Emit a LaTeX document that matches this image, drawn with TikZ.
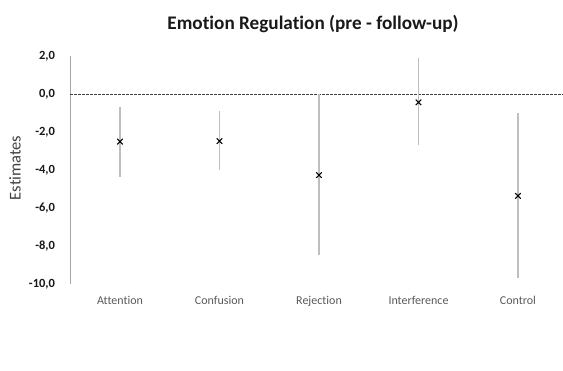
\documentclass[tikz,border=0pt]{standalone}
\usepackage{fontspec}
\setmainfont{Carlito}[Ligatures=NoCommon]
\usetikzlibrary{shapes.misc}

\definecolor{axisgray}{HTML}{A6A6A6}
\definecolor{bargray}{HTML}{BFBFBF}
\definecolor{textgray}{HTML}{404040}
\definecolor{catgray}{HTML}{595959}

\begin{document}
\begin{tikzpicture}
    [
        x=1pt, y=1pt,
        errbar/.style = {draw=bargray, line width=1.6pt},
        estmark/.style = {draw=black, shape=cross out, minimum size=4.4pt, inner sep=0pt, line width=1.1pt},
        ticklabel/.style = {anchor=east, inner sep=0pt, xshift=-15pt, font=\fontsize{12.5}{14}\selectfont\bfseries, text=black!90},
        catlabel/.style = {anchor=base, inner sep=0pt, yshift=-19.7pt, font=\fontsize{12}{14}\selectfont, text=catgray},
    ]

    \useasboundingbox (0,0) rectangle (563,-370);

    \node[font=\fontsize{19.2}{22}\selectfont\bfseries, text=black!90] (title) at (313,-24) {Emotion Regulation (pre - follow-up)};
    \node[rotate=90, font=\fontsize{16.5}{19}\selectfont, text=textgray] (ylabel) at (15,-168) {Estimates};

    \begin{scope}[x=99.5pt, y=19pt, xshift=20.5pt, yshift=-94.3pt]

        % axis and zero line
        \coordinate (axtop) at (0.5,2);
        \coordinate (axbot) at (0.5,-10);
        \coordinate (zeroL) at (0.5,0);
        \coordinate (zeroR) at (5.45,0);
        \draw[draw=axisgray, line width=1pt] (axtop) -- (axbot);
        \draw[draw=textgray, line width=0.9pt, dash pattern=on 2.5pt off 1.5pt] (zeroL) -- (zeroR);

        % tick labels
        \node[ticklabel] (t2)   at (0.5,2)   {2,0};
        \node[ticklabel] (t0)   at (0.5,0)   {0,0};
        \node[ticklabel] (tm2)  at (0.5,-2)  {-2,0};
        \node[ticklabel] (tm4)  at (0.5,-4)  {-4,0};
        \node[ticklabel] (tm6)  at (0.5,-6)  {-6,0};
        \node[ticklabel] (tm8)  at (0.5,-8)  {-8,0};
        \node[ticklabel] (tm10) at (0.5,-10) {-10,0};

        % error bars
        \coordinate (attTop) at (1,-0.65);  \coordinate (attBot) at (1,-4.34);
        \coordinate (conTop) at (2,-0.88);  \coordinate (conBot) at (2,-4.0);
        \coordinate (rejTop) at (3,0);      \coordinate (rejBot) at (3,-8.46);
        \coordinate (intTop) at (4,1.9);    \coordinate (intBot) at (4,-2.67);
        \coordinate (ctrTop) at (5,-1.0);   \coordinate (ctrBot) at (5,-9.68);

        \draw[errbar] (attTop) -- (attBot);
        \draw[errbar] (conTop) -- (conBot);
        \draw[errbar] (rejTop) -- (rejBot);
        \draw[errbar] (intTop) -- (intBot);
        \draw[errbar] (ctrTop) -- (ctrBot);

        % estimates
        \node[estmark] (attM) at (1,-2.49) {};
        \node[estmark] (conM) at (2,-2.46) {};
        \node[estmark] (rejM) at (3,-4.25) {};
        \node[estmark] (intM) at (4,-0.42) {};
        \node[estmark] (ctrM) at (5,-5.35) {};

        % categories
        \node[catlabel] (attL) at (1,-10) {Attention};
        \node[catlabel] (conL) at (2,-10) {Confusion};
        \node[catlabel] (rejL) at (3,-10) {Rejection};
        \node[catlabel] (intL) at (4,-10) {Interference};
        \node[catlabel] (ctrL) at (5,-10) {Control};

    \end{scope}

\end{tikzpicture}
\end{document}
